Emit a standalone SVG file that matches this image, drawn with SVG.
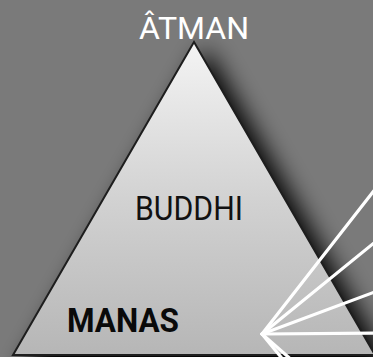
<svg xmlns="http://www.w3.org/2000/svg" width="373" height="357" viewBox="0 0 373 357">
  <defs>
    <linearGradient id="tri" x1="0" y1="42" x2="0" y2="355" gradientUnits="userSpaceOnUse">
      <stop offset="0" stop-color="#f4f4f4"/>
      <stop offset="0.5" stop-color="#d2d2d2"/>
      <stop offset="1" stop-color="#b6b6b6"/>
    </linearGradient>
    <filter id="shadow" x="-30%" y="-30%" width="160%" height="160%">
      <feGaussianBlur stdDeviation="12"/>
    </filter>
    <style>
      text { font-family: Roboto, "Open Sans", "Liberation Sans", sans-serif; }
      .ray { stroke: #ffffff; stroke-width: 3.2; stroke-linecap: round; fill: none; }
    </style>
  </defs>
  <rect width="373" height="357" fill="#7a7a7a"/>
  <g id="pyramid">
    <polygon points="206,48 396,376 18,376" fill="#000" filter="url(#shadow)"/>
    <polygon points="194,42 375,355 13,355" fill="url(#tri)" stroke="#1e1e1e" stroke-width="2" stroke-linejoin="miter"/>
  </g>
  <g id="atman">
    <text x="194" y="39" font-size="31" fill="#ffffff" text-anchor="middle" textLength="110" lengthAdjust="spacingAndGlyphs">ÂTMAN</text>
  </g>
  <g id="buddhi">
    <text x="189" y="219.5" font-size="32.5" fill="#111111" text-anchor="middle" textLength="108" lengthAdjust="spacingAndGlyphs">BUDDHI</text>
  </g>
  <g id="manas">
    <text x="123" y="331.5" font-size="33" font-weight="bold" fill="#0a0a0a" text-anchor="middle" textLength="112" lengthAdjust="spacingAndGlyphs">MANAS</text>
  </g>
  <g id="connectors">
    <line class="ray" x1="262" y1="334" x2="380" y2="183"/>
    <line class="ray" x1="262" y1="334" x2="380" y2="238"/>
    <line class="ray" x1="262" y1="334" x2="380" y2="290"/>
    <line class="ray" x1="262" y1="334" x2="380" y2="333"/>
    <line class="ray" x1="262" y1="334" x2="285" y2="362"/>
    <line class="ray" x1="262" y1="334" x2="294" y2="362"/>
  </g>
</svg>
